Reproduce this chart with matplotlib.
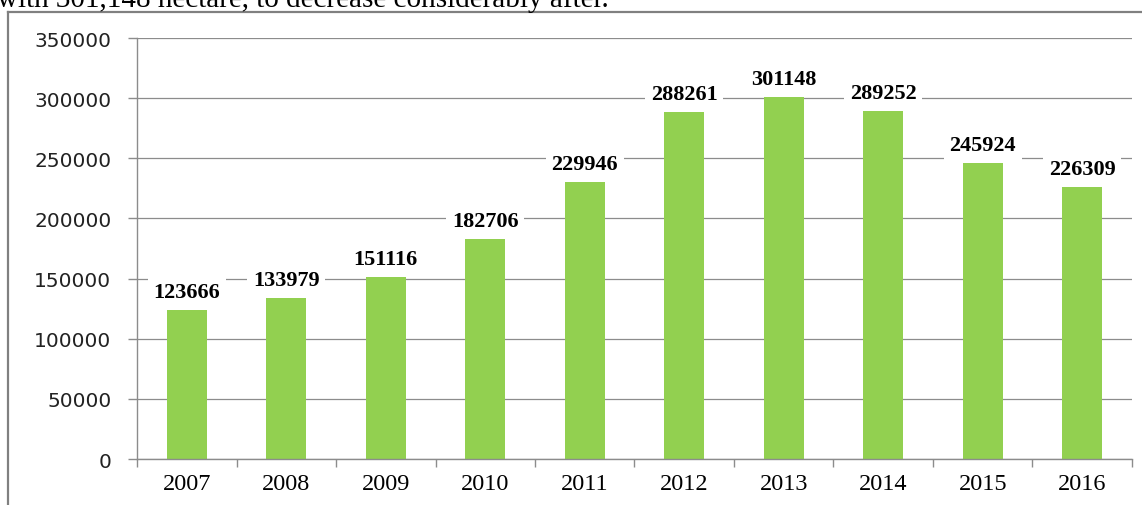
import numpy as np
import matplotlib.pyplot as plt
from matplotlib.lines import Line2D

years = ["2007", "2008", "2009", "2010", "2011", "2012", "2013", "2014", "2015", "2016"]
area = [123666, 133979, 151116, 182706, 229946, 288261, 301148, 289252, 245924, 226309]
yticks = [0, 50000, 100000, 150000, 200000, 250000, 300000, 350000]

grey = "#8c8c8c"
serif = ["Liberation Serif", "DejaVu Serif"]

fig = plt.figure(figsize=(11.42, 5.06), dpi=100)
ax = fig.add_axes([0.12, 0.0909, 0.8712, 0.832])

x = np.arange(len(years))
ax.bar(x, area, width=0.4, color="#92d050", zorder=2)

for xi, v in zip(x, area):
    ax.annotate(str(v), (xi, v), xytext=(0, 9.5), textcoords="offset points",
                ha="center", va="baseline", fontsize=16, fontweight="bold",
                family=serif, zorder=4,
                bbox=dict(boxstyle="square,pad=0.25", fc="white", ec="none"))

ax.set_xlim(-0.5, len(years) - 0.5)
ax.set_ylim(0, 350000)
ax.set_yticks(yticks)
ax.set_yticklabels([str(t) for t in yticks], fontsize=14.5, family="DejaVu Sans",
                   color="#222222")
ax.set_xticks(x)
ax.set_xticklabels(years, fontsize=17.5, family=serif)
ax.set_xticks(np.arange(-0.5, len(years), 1.0), minor=True)

ax.tick_params(axis="x", which="major", length=0, pad=10)
ax.tick_params(axis="x", which="minor", length=6, color=grey, width=1)
ax.tick_params(axis="y", length=6.5, color=grey, width=1, pad=12)

ax.grid(axis="y", color=grey, linewidth=0.9, zorder=1)
ax.set_axisbelow(True)
for s in ["top", "right"]:
    ax.spines[s].set_visible(False)
for s in ["left", "bottom"]:
    ax.spines[s].set_color(grey)
    ax.spines[s].set_linewidth(1)

# outer frame of the embedded chart (only top and left edges visible)
fig.add_artist(Line2D([8 / 1142, 1.0], [1 - 13 / 506, 1 - 13 / 506],
                      transform=fig.transFigure, color="#808080", linewidth=1.6))
fig.add_artist(Line2D([8 / 1142, 8 / 1142], [0, 1 - 13 / 506],
                      transform=fig.transFigure, color="#808080", linewidth=1.6))

# cut-off sentence of surrounding document text
fig.text(-0.003, 1 - 7 / 506, "with 301,148 hectare, to decrease considerably after.",
         fontsize=21, family=serif, ha="left", va="baseline")

fig.savefig("out.png", dpi=100)
